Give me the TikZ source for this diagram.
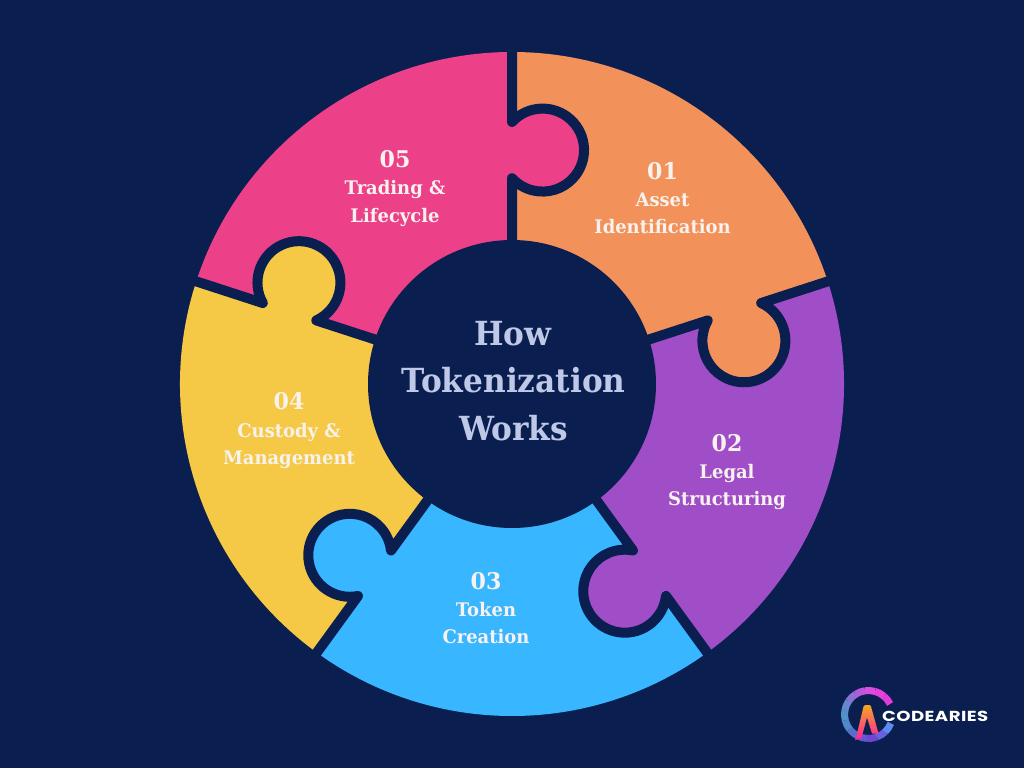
\documentclass[tikz,border=0pt]{standalone}
\usepackage{fontspec}
\setmainfont{DejaVu Serif}
\newfontfamily\titlefont[FakeStretch=0.94]{DejaVu Serif}
\newfontfamily\labelfont[FakeStretch=0.96]{DejaVu Serif}
\newfontfamily\logofont[FakeStretch=1.25,LetterSpace=3]{Poppins}
\definecolor{navy}{HTML}{0A1F50}
\definecolor{porange}{HTML}{F2925A}
\definecolor{ppink}{HTML}{EC4188}
\definecolor{ppurple}{HTML}{A04EC8}
\definecolor{pblue}{HTML}{38B6FF}
\definecolor{pyellow}{HTML}{F5C945}
\definecolor{titlecol}{HTML}{BFC8E6}
\definecolor{labelcol}{HTML}{F8F2EE}
\definecolor{lgpink}{HTML}{FF1EA0}
\definecolor{lgorange}{HTML}{F5A623}
\definecolor{lgmid}{HTML}{FF4A70}
\tikzset{
  x=1pt,y=1pt,
  numlabel/.style={text=labelcol,font=\labelfont\fontsize{23}{23}\selectfont\bfseries,inner sep=0pt,anchor=base},
  steplabel/.style={text=labelcol,font=\labelfont\fontsize{18.7}{18.7}\selectfont\bfseries,inner sep=0pt,anchor=base},
  titlelabel/.style={text=titlecol,font=\titlefont\fontsize{33.2}{33.2}\selectfont\bfseries,inner sep=0pt,anchor=base},
  divider/.style={draw=navy,line width=10pt,line join=round},
  arcseg/.style={line width=7pt}
}
\begin{document}
\begin{tikzpicture}
\useasboundingbox (-512,-384) rectangle (512,384);
\fill[navy] (-512,-384) rectangle (512,384);
% sectors: start angle / colour (clockwise)
\foreach \a/\c in {90/porange,18/ppurple,-54/pblue,-126/pyellow,162/ppink}{
  \fill[\c] (0,0) -- (\a:332) arc[start angle=\a,delta angle=-72,radius=332] -- cycle;
}
% knobs, dividers
\foreach \a/\c in {90/ppink,18/porange,-54/ppurple,-126/pblue,162/pyellow}{
  \begin{scope}[rotate=\a-90]
    \fill[\c] (30.5,234) circle[radius=41.5];
    \draw[divider] (0,336) -- (0,262) arc[start angle=137.4,end angle=-137.4,radius=41.5] -- (0,130);
  \end{scope}
}
\node[circle,fill=navy,minimum size=288pt,inner sep=0pt] (hub) at (0,0) {};
\node[titlelabel] (t1) at (1,38) {How};
\node[titlelabel] (t2) at (1.5,-9) {Tokenization};
\node[titlelabel] (t3) at (1.5,-56) {Works};
\node[numlabel] (n1) at (150.5,204) {01};
\node[steplabel] (s1a) at (150.5,177) {Asset};
\node[steplabel] (s1b) at (150.5,150) {Identification};
\node[numlabel] (n2) at (215,-67) {02};
\node[steplabel] (s2a) at (215,-94) {Legal};
\node[steplabel] (s2b) at (215,-121) {Structuring};
\node[numlabel] (n3) at (-26,-205) {03};
\node[steplabel] (s3a) at (-26,-232) {Token};
\node[steplabel] (s3b) at (-26,-259) {Creation};
\node[numlabel] (n4) at (-223,-25) {04};
\node[steplabel] (s4a) at (-223,-53) {Custody \&};
\node[steplabel] (s4b) at (-223,-80) {Management};
\node[numlabel] (n5) at (-117,216) {05};
\node[steplabel] (s5a) at (-117,189) {Trading \&};
\node[steplabel] (s5b) at (-117,161) {Lifecycle};
% logo
\begin{scope}[shift={(356.5,-330.5)}]
  \foreach \s/\c in {26/E23BD8,50/E840DC,74/DC4CE0,98/B858DC,122/8C70D4,146/6488CC,170/5490C8,194/5088C8,218/5570C8,242/6458D0,266/7045D0,290/6A60DC,314/5A8CF0}{
    \definecolor{seg}{HTML}{\c}
    \draw[seg,arcseg] (\s:24) arc[start angle=\s,delta angle=24.5,radius=24];
  }
  \shade[top color=lgorange,middle color=lgmid,bottom color=lgpink]
    (-13,-25.5) -- (-7,-23.5) -- (-1.5,-3) -- (3.5,-19) -- (10,-19)
    -- (2.5,8) -- (1,9.5) -- (-3.5,9.5) -- (-5,8) -- cycle;
\end{scope}
\node[inner sep=0pt,anchor=base west,text=white,font=\logofont\fontsize{14.5}{14.5}\selectfont\bfseries] (logo) at (370,-337) {CODEARIES};
\end{tikzpicture}
\end{document}
